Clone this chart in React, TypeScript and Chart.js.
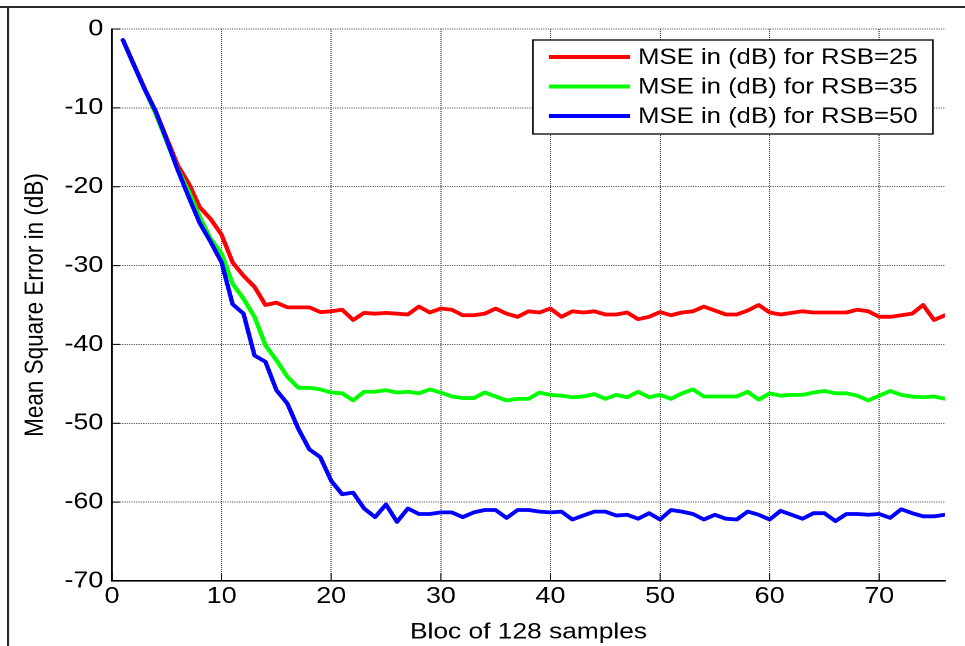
import React, { useEffect, useRef } from "react";
import { Chart, registerables } from "chart.js";

Chart.register(...registerables);

// ---------------- data ----------------
const BLOCKS = Array.from({ length: 76 }, (_, i) => i + 1);

const MSE_RSB25 = [
  -1.4, -4.5, -7.6, -10.5, -13.9, -17.3, -19.6, -22.6, -24.1, -26.1,
  -29.6, -31.3, -32.7, -35.0, -34.7, -35.3, -35.3, -35.3, -35.9, -35.8,
  -35.6, -36.9, -36.0, -36.1, -36.0, -36.1, -36.2, -35.2, -35.95, -35.45,
  -35.6, -36.3, -36.3, -36.1, -35.45, -36.1, -36.5, -35.8, -35.95, -35.45,
  -36.5, -35.8, -35.95, -35.8, -36.2, -36.2, -35.95, -36.8, -36.5, -35.9,
  -36.3, -35.95, -35.8, -35.2, -35.7, -36.2, -36.2, -35.7, -35.0, -35.95,
  -36.2, -36.0, -35.8, -35.95, -35.95, -35.95, -35.95, -35.6, -35.8, -36.5,
  -36.5, -36.3, -36.1, -35.0, -36.9, -36.3,
];

const MSE_RSB35 = [
  -1.4, -4.6, -7.7, -10.8, -14.3, -17.8, -20.6, -23.8, -26.6, -28.5,
  -32.3, -34.2, -36.5, -40.1, -42.0, -44.1, -45.5, -45.5, -45.7, -46.1,
  -46.2, -47.1, -46.0, -46.0, -45.8, -46.1, -46.0, -46.2, -45.7, -46.1,
  -46.6, -46.8, -46.8, -46.1, -46.6, -47.1, -46.9, -46.9, -46.1, -46.4,
  -46.5, -46.7, -46.6, -46.3, -46.9, -46.4, -46.7, -46.0, -46.7, -46.4,
  -46.9, -46.2, -45.7, -46.6, -46.6, -46.6, -46.6, -46.0, -47.0, -46.2,
  -46.5, -46.4, -46.4, -46.1, -45.9, -46.2, -46.2, -46.5, -47.1, -46.5,
  -45.9, -46.4, -46.6, -46.7, -46.6, -46.9,
];

const MSE_RSB50 = [
  -1.4, -4.6, -7.7, -10.5, -14.1, -17.9, -21.3, -24.6, -27.0, -29.6,
  -34.9, -36.1, -41.4, -42.2, -45.8, -47.5, -50.7, -53.3, -54.3, -57.3,
  -59.0, -58.8, -60.8, -61.9, -60.3, -62.5, -60.8, -61.5, -61.5, -61.3,
  -61.3, -61.9, -61.3, -61.0, -61.0, -62.0, -61.0, -61.0, -61.2, -61.3,
  -61.2, -62.2, -61.7, -61.2, -61.2, -61.7, -61.6, -62.1, -61.4, -62.2,
  -61.0, -61.2, -61.5, -62.2, -61.6, -62.1, -62.2, -61.2, -61.6, -62.2,
  -61.1, -61.6, -62.1, -61.4, -61.4, -62.4, -61.5, -61.5, -61.6, -61.5,
  -62.0, -60.9, -61.4, -61.8, -61.8, -61.6,
];

const SERIES_LABELS = [
  "MSE in (dB) for RSB=25",
  "MSE in (dB) for RSB=35",
  "MSE in (dB) for RSB=50",
];
const SERIES_COLORS = ["#ff0000", "#00ff00", "#0000ff"];

const X_TICKS = [0, 10, 20, 30, 40, 50, 60, 70];
const Y_TICKS = [0, -10, -20, -30, -40, -50, -60, -70];
const X_MIN = 0;
const X_MAX = 76;
const Y_MIN = -70;
const Y_MAX = 0;
const X_TITLE = "Bloc of 128 samples";
const Y_TITLE = "Mean Square Error in (dB)";

// ---------------- layout ----------------
const OUT_W = 965;
const OUT_H = 646;
const W = 825; // internal width, stretched horizontally to OUT_W
const SX = OUT_W / W;
const FONT = "'Liberation Sans', Arial, Helvetica, sans-serif";

const ix = (px: number) => px / SX;

const decorPlugin = {
  id: "matlabDecor",
  beforeDraw(chart: any) {
    const { ctx } = chart;
    ctx.save();
    ctx.fillStyle = "#ffffff";
    ctx.fillRect(0, 0, chart.width, chart.height);
    // outer frame (top + left)
    ctx.strokeStyle = "#2a2a2a";
    ctx.lineWidth = 2;
    ctx.beginPath();
    ctx.moveTo(0, 7);
    ctx.lineTo(chart.width, 7);
    ctx.stroke();
    ctx.lineWidth = 2 / SX;
    ctx.beginPath();
    ctx.moveTo(ix(8), 6);
    ctx.lineTo(ix(8), chart.height);
    ctx.stroke();
    ctx.restore();
  },
  afterDraw(chart: any) {
    const { ctx, chartArea } = chart;
    const xs = chart.scales.x;
    const ys = chart.scales.y;
    ctx.save();
    // inward tick marks
    ctx.strokeStyle = "#000";
    ctx.lineWidth = 1;
    ctx.beginPath();
    for (const v of Y_TICKS) {
      const y = ys.getPixelForValue(v);
      ctx.moveTo(chartArea.left, y);
      ctx.lineTo(chartArea.left + ix(8), y);
    }
    ctx.stroke();
    ctx.lineWidth = 1 / SX;
    ctx.beginPath();
    for (const v of X_TICKS) {
      const x = xs.getPixelForValue(v);
      ctx.moveTo(x, chartArea.bottom);
      ctx.lineTo(x, chartArea.bottom - 8);
    }
    ctx.stroke();

    // legend box
    const right = chartArea.right - ix(12);
    const left = right - ix(400);
    const top = chartArea.top + 11;
    const bottom = top + 94;
    ctx.fillStyle = "#fff";
    ctx.fillRect(left, top, right - left, bottom - top);
    ctx.strokeStyle = "#000";
    ctx.lineWidth = 1.3;
    ctx.strokeRect(left, top, right - left, bottom - top);
    ctx.font = `22px ${FONT}`;
    ctx.textBaseline = "middle";
    ctx.textAlign = "left";
    chart.data.datasets.forEach((ds: any, i: number) => {
      const y = top + 17 + i * 29.5;
      ctx.strokeStyle = ds.borderColor;
      ctx.lineWidth = 4;
      ctx.beginPath();
      ctx.moveTo(left + ix(16), y);
      ctx.lineTo(left + ix(97), y);
      ctx.stroke();
      ctx.fillStyle = "#000";
      ctx.fillText(ds.label, left + ix(105), y + 1);
    });
    ctx.restore();
  },
};

export default function App() {
  const canvasRef = useRef<HTMLCanvasElement | null>(null);

  useEffect(() => {
    const canvas = canvasRef.current;
    if (!canvas) return;
    const series = [MSE_RSB25, MSE_RSB35, MSE_RSB50];
    const chart = new Chart(canvas, {
      type: "line",
      data: {
        datasets: series.map((vals, i) => ({
          label: SERIES_LABELS[i],
          data: BLOCKS.map((b, j) => ({ x: b, y: vals[j] })),
          borderColor: SERIES_COLORS[i],
          backgroundColor: SERIES_COLORS[i],
          borderWidth: 3.8,
          pointRadius: 0,
          tension: 0,
          fill: false,
          borderJoinStyle: "round" as const,
          borderCapStyle: "round" as const,
          order: 3 - i,
        })),
      },
      options: {
        responsive: false,
        animation: false,
        devicePixelRatio: 2,
        layout: { padding: { left: 0, top: 29, right: W - ix(945), bottom: 0 } },
        plugins: {
          legend: { display: false },
          tooltip: { enabled: false },
        },
        scales: {
          x: {
            type: "linear",
            min: X_MIN,
            max: X_MAX,
            afterBuildTicks: (scale: any) => {
              scale.ticks = X_TICKS.map((v) => ({ value: v }));
            },
            afterFit: (scale: any) => {
              scale.height = OUT_H - 581;
            },
            ticks: {
              autoSkip: false,
              maxRotation: 0,
              padding: 2,
              color: "#000",
              font: { family: FONT, size: 23 },
            },
            grid: {
              color: "#3a3a3a",
              lineWidth: 1,
              drawTicks: false,
            },
            border: { display: true, color: "#000", width: 1.6, dash: [1, 1] },
            title: {
              display: true,
              text: X_TITLE,
              color: "#000",
              font: { family: FONT, size: 22.5 },
              padding: { top: 0, bottom: 0 },
            },
          },
          y: {
            type: "linear",
            min: Y_MIN,
            max: Y_MAX,
            afterBuildTicks: (scale: any) => {
              scale.ticks = Y_TICKS.slice().reverse().map((v) => ({ value: v }));
            },
            afterFit: (scale: any) => {
              scale.width = ix(112);
            },
            ticks: {
              padding: 7.4,
              color: "#000",
              font: { family: FONT, size: 23 },
            },
            grid: {
              color: "#3a3a3a",
              lineWidth: 1 / SX,
              drawTicks: false,
            },
            border: { display: true, color: "#000", width: 1.6 / SX, dash: [1, 1] },
            title: {
              display: true,
              text: Y_TITLE,
              color: "#000",
              font: { family: FONT, size: 22.5 },
              padding: { top: 17, bottom: 0 },
            },
          },
        },
      },
      plugins: [decorPlugin],
    } as any);
    return () => chart.destroy();
  }, []);

  return (
    <div
      style={{
        position: "absolute",
        left: 0,
        top: 0,
        width: W,
        height: OUT_H,
        transform: `scaleX(${SX})`,
        transformOrigin: "0 0",
        overflow: "hidden",
      }}
    >
      <canvas
        ref={canvasRef}
        width={W}
        height={OUT_H}
        style={{ display: "block", width: W, height: OUT_H }}
      />
    </div>
  );
}
